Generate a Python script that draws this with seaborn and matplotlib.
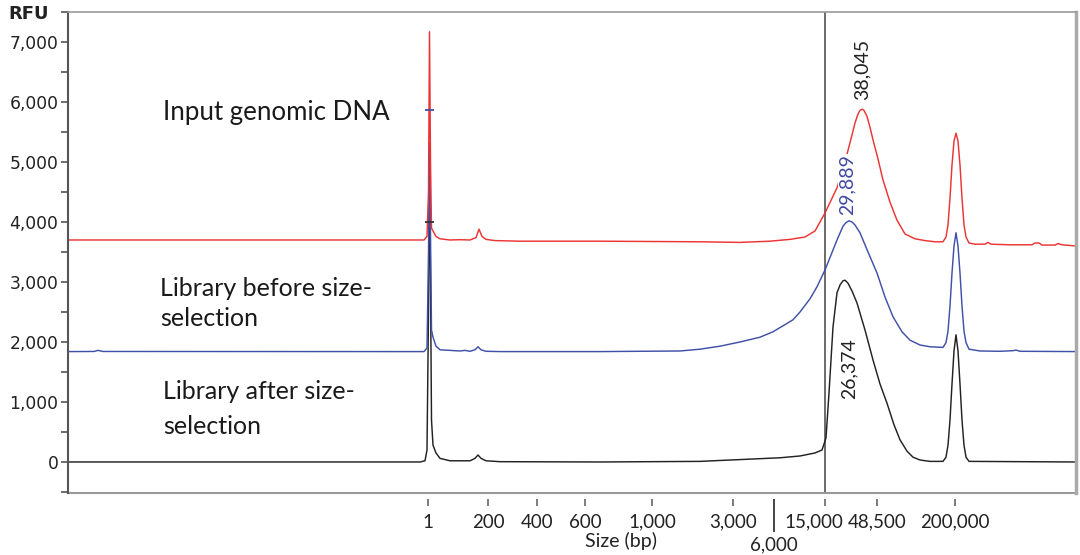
import pandas as pd
import seaborn as sns
import matplotlib.pyplot as plt
from matplotlib.lines import Line2D
from matplotlib.ticker import MultipleLocator, FuncFormatter

# Migration position (arbitrary units along the run) and signal (RFU) per trace
input_mig = [0.0, 8.2, 18.2, 28.2, 33.2, 35.6, 35.9, 36.05, 36.15, 36.25, 36.35, 36.5, 36.8,
             37.2, 38.2, 39.2, 40.2, 40.8, 41.1, 41.4, 41.8, 42.7, 45.2, 53.2, 63.2, 67.2, 70.2,
             72.2, 73.7, 74.7, 75.7, 76.9, 77.7, 78.4, 78.7, 79.0, 79.2, 79.4, 79.6, 79.9, 80.2,
             80.5, 81.0, 81.5, 82.2, 82.9, 83.7, 84.7, 85.7, 86.7, 87.5, 87.8, 88.0, 88.2, 88.4,
             88.6, 88.8, 89.0, 89.2, 89.4, 89.6, 89.8, 90.1, 90.7, 91.7, 92.0, 92.3, 94.2, 96.4,
             96.7, 97.1, 97.4, 98.7, 99.0, 99.4, 100.8]
input_rfu = [3700, 3700, 3700, 3700, 3700, 3700, 3760, 4500, 7170, 5000, 3900, 3850, 3760,
             3720, 3700, 3705, 3700, 3740, 3880, 3760, 3710, 3690, 3680, 3680, 3670, 3660, 3680,
             3710, 3750, 3850, 4150, 4570, 5000, 5450, 5650, 5800, 5860, 5880, 5860, 5760, 5580,
             5370, 5050, 4700, 4330, 4030, 3800, 3720, 3690, 3670, 3670, 3750, 3950, 4400, 4950,
             5350, 5480, 5350, 4950, 4400, 3950, 3750, 3650, 3630, 3630, 3660, 3630, 3620, 3620,
             3650, 3650, 3615, 3615, 3640, 3620, 3600]

before_mig = [0.0, 2.6, 3.0, 3.5, 33.2, 35.6, 35.9, 36.05, 36.15, 36.25, 36.35, 36.5, 36.8, 37.2,
              38.2, 39.2, 39.7, 40.2, 40.7, 41.0, 41.3, 41.8, 43.2, 53.2, 61.2, 63.2, 65.2, 67.2,
              69.2, 70.5, 72.5, 73.2, 74.2, 74.9, 75.7, 76.9, 77.5, 77.8, 78.1, 78.4, 78.7, 79.2,
              80.0, 80.9, 81.7, 82.5, 83.4, 84.2, 85.2, 86.2, 87.5, 87.8, 88.0, 88.2, 88.4, 88.6,
              88.8, 89.0, 89.2, 89.4, 89.6, 89.8, 90.1, 91.2, 93.2, 94.5, 94.8, 95.2, 100.8]
before_rfu = [1840, 1842, 1860, 1842, 1840, 1840, 1900, 3500, 5320, 3800, 2200, 2080, 1930, 1870,
              1860, 1850, 1860, 1845, 1870, 1920, 1870, 1845, 1840, 1840, 1850, 1880, 1930, 2000,
              2080, 2170, 2370, 2500, 2720, 2920, 3200, 3700, 3930, 3990, 4020, 4000, 3950, 3820,
              3500, 3150, 2750, 2420, 2170, 2030, 1950, 1920, 1910, 1990, 2180, 2600, 3150, 3600,
              3820, 3600, 3150, 2600, 2180, 1990, 1880, 1850, 1845, 1855, 1865, 1845, 1840]

after_mig = [0.0, 35.2, 35.7, 35.9, 36.05, 36.15, 36.25, 36.35, 36.5, 36.8, 37.2, 38.2, 40.2, 40.7,
             41.0, 41.3, 41.8, 43.2, 53.2, 63.2, 67.2, 71.2, 73.2, 74.7, 75.4, 75.8, 76.1, 76.5,
             76.9, 77.2, 77.5, 77.7, 78.0, 78.4, 78.9, 79.7, 80.5, 81.2, 81.9, 82.6, 83.2, 83.9,
             84.5, 85.2, 86.2, 87.5, 87.8, 88.0, 88.2, 88.4, 88.6, 88.8, 89.0, 89.2, 89.4, 89.6,
             89.8, 90.1, 100.8]
after_rfu = [0, 0, 20, 200, 2500, 5000, 3000, 700, 280, 150, 60, 20, 20, 60,
             117, 60, 20, 5, 0, 10, 40, 70, 100, 150, 200, 400, 1150, 2250,
             2820, 2950, 3020, 3030, 2980, 2850, 2650, 2200, 1700, 1300, 980, 620, 370, 180,
             80, 33, 10, 10, 80, 280, 700, 1300, 1850, 2120, 1850, 1300, 700, 280,
             80, 10, 0]

sample_names = ["Library after size-selection", "Library before size-selection", "Input genomic DNA"]
sample_colors = ["#222222", "#3f51a8", "#ec3434"]

# Peak-caller ticks sitting on the lower-marker spike
tick_mig = [36.15, 36.15]
tick_rfu = [5870, 4000]
tick_colors = ["#3f51a8", "#333333"]

# Size ladder: fragment size (bp) and its migration position
size_labels = ["1", "200", "400", "600", "1,000", "3,000", "15,000", "48,500", "200,000"]
size_pos = [36.0, 42.0, 46.9, 51.7, 58.4, 66.5, 75.7, 80.9, 88.7]
low_label = ["6,000"]
low_pos = [70.6]
cutoff_label = "15,000"
cutoff_pos = 75.7

# Peak-size callouts
peak_text = ["38,045", "29,889", "26,374"]
peak_x = [79.4, 77.9, 78.1]
peak_y = [6550, 4617, 1550]
peak_color = ["#222222", "#3f4aa0", "#222222"]

frames = []
for name, m, r in zip(sample_names,
                      [after_mig, before_mig, input_mig],
                      [after_rfu, before_rfu, input_rfu]):
    frames.append(pd.DataFrame({"mig": m, "rfu": r, "sample": name}))
df = pd.concat(frames, ignore_index=True)

sns.set_theme(style="white")
plt.rcParams["font.family"] = ["DejaVu Sans"]

fig = plt.figure(figsize=(10.8, 5.55), dpi=100)
ax = fig.add_axes([68 / 1080, 62 / 555, 1008 / 1080, 481 / 555])

ax.axvline(cutoff_pos, color="#444444", lw=1.1, zorder=1)

sns.lineplot(data=df, x="mig", y="rfu", hue="sample", hue_order=sample_names,
             palette=sample_colors, sort=False, estimator=None, lw=1.05,
             legend=False, ax=ax, zorder=2)
ax.scatter(tick_mig, tick_rfu, marker="_", s=40, c=tick_colors, linewidths=1.3, zorder=3)

ax.set_xlim(0, 100.8)
ax.set_ylim(-517, 7500)

# y axis
ax.yaxis.set_major_locator(MultipleLocator(1000))
ax.yaxis.set_minor_locator(MultipleLocator(500))
ax.yaxis.set_major_formatter(FuncFormatter(lambda v, p: f"{int(round(v)):,}"))
ax.tick_params(axis="y", which="both", left=True, direction="out", length=5, width=1.2,
               color="#555555", pad=2, labelsize=12.3, labelcolor="#222222")

# x axis: ladder sizes; 6,000 dropped lower on a long tick, and the 15,000 label
# nudged left of its tick so it clears the cutoff line
spine_out, tick_len, tick_pad = 4, 5, 6
ax.set_xticks(size_pos, labels=["" if s == cutoff_label else s for s in size_labels])
ax.set_xticks(low_pos, labels=low_label, minor=True)
ax.tick_params(axis="x", which="major", bottom=True, direction="out", length=tick_len,
               width=1.2, color="#666666", pad=tick_pad, labelsize=13.5,
               labelcolor="#222222", labelfontfamily="Lato")
ax.tick_params(axis="x", which="minor", bottom=True, direction="out", length=24, width=1.4,
               color="#444444", pad=3, labelsize=13.5, labelcolor="#222222",
               labelfontfamily="Lato")
ax.annotate(cutoff_label, xy=(cutoff_pos, 0), xycoords=("data", "axes fraction"),
            xytext=(-8, -(spine_out + tick_len + tick_pad)), textcoords="offset points",
            ha="center", va="top", fontsize=13.5, family="Lato", color="#222222",
            annotation_clip=False)

ax.set_xlabel("")
ax.set_ylabel("")
ax.text(0.549, -0.099, "Size (bp)", transform=ax.transAxes, ha="center", va="center",
        fontsize=14, family="Lato", color="#222222")

# frame
ax.spines["bottom"].set_position(("outward", spine_out))
ax.spines["bottom"].set_color("none")
ax.spines["left"].set_color("#555555")
ax.spines["left"].set_linewidth(1.5)
ax.spines["top"].set_color("#999999")
ax.spines["top"].set_linewidth(1.2)
ax.spines["right"].set_color("#aaaaaa")
ax.spines["right"].set_linewidth(2.5)
ax.add_line(Line2D([0, 1], [0, 0], transform=ax.transAxes, color="#999999", lw=1.5,
                   clip_on=False))

fig.text(8 / 1080, 1 - 14 / 555, "RFU", ha="left", va="center", fontsize=13,
         fontweight="bold", color="#222222")

# sample labels
ax.text(9.5, 5817, "Input genomic DNA", ha="left", va="center", fontsize=18.6,
        family="Lato", color="#1a1a1a")
ax.text(9.2, 2642, "Library before size-\nselection", ha="left", va="center", fontsize=18,
        family="Lato", color="#1a1a1a", linespacing=1.4)
ax.text(9.5, 880, "Library after size-\nselection", ha="left", va="center", fontsize=18,
        family="Lato", color="#1a1a1a", linespacing=1.6)

# peak callouts
for t, x, y, c in zip(peak_text, peak_x, peak_y, peak_color):
    ax.text(x, y, t, rotation=90, ha="center", va="center", fontsize=14, family="Lato",
            color=c, zorder=5,
            bbox=dict(boxstyle="square,pad=0.05", facecolor="white", edgecolor="none"))

fig.savefig("out.png", dpi=100)
